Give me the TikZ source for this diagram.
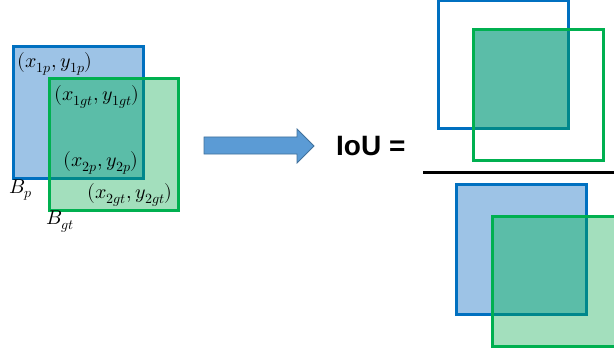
\documentclass[tikz,border=0pt]{standalone}
\usepackage{fontspec}
\usepackage{unicode-math}
\setmathfont{Latin Modern Math}
\newfontfamily\labelsans{Liberation Sans}
\definecolor{bluefill}{HTML}{9DC3E6}
\definecolor{blueline}{HTML}{0070C0}
\definecolor{greenfill}{HTML}{A3DFBD}
\definecolor{greenline}{HTML}{00B050}
\definecolor{overlapfill}{HTML}{5BBDA8}
\definecolor{overlapline}{HTML}{00878C}
\definecolor{arrowfill}{HTML}{5B9BD5}
\definecolor{arrowline}{HTML}{41719C}
\tikzset{
  boxline/.style={line width=3pt},
  coord/.style={inner sep=0pt, font=\fontsize{20}{22}\selectfont},
}
% two overlapping boxes: predicted (#1,#2) and ground truth (#3,#4)
\newcommand{\boxpair}[6]{%
  % #5: fill the blue box (1/0); #6: fill the green box (1/0)
  \ifnum#5=1 \fill[bluefill] (#1) rectangle (#2);\fi
  \ifnum#6=1 \fill[greenfill] (#3) rectangle (#4);\fi
  \begin{scope}
    \clip (#1) rectangle (#2);
    \fill[overlapfill] (#3) rectangle (#4);
  \end{scope}
  \draw[boxline, blueline] (#1) rectangle (#2);
  \begin{scope}
    \clip (#3) rectangle (#4);
    \draw[boxline, overlapline] (#1) rectangle (#2);
  \end{scope}
  \draw[boxline, greenline] (#3) rectangle (#4);
}
\begin{document}
\begin{tikzpicture}[x=1pt, y=-1pt]
\useasboundingbox (0,0) rectangle (614,353);
\clip (0,0) rectangle (614,353);

% left: both boxes with corner labels
\coordinate (pa) at (13,47);  \coordinate (pb) at (143,178);
\coordinate (ga) at (49,79);  \coordinate (gb) at (178,210);
\boxpair{pa}{pb}{ga}{gb}{1}{1}

\node[coord] (c1p)  at (55,64)   {$(x_{1p},y_{1p})$};
\node[coord] (c1gt) at (97,97)   {$(x_{1gt},y_{1gt})$};
\node[coord] (c2p)  at (101,163) {$(x_{2p},y_{2p})$};
\node[coord] (c2gt) at (130,195) {$(x_{2gt},y_{2gt})$};
\node[coord] (bp)   at (21,190)  {$B_p$};
\node[coord] (bgt)  at (60,222)  {$B_{gt}$};

% block arrow
\filldraw[fill=arrowfill, draw=arrowline, line width=0.8pt]
  (204,137) -- (297,137) -- (297,129) -- (314,146) -- (297,163)
  -- (297,154) -- (204,154) -- cycle;

\node[inner sep=0pt, anchor=west, font=\labelsans\bfseries\fontsize{28}{30}\selectfont]
  (iou) at (336,146) {IoU =};

% numerator: intersection only
\coordinate (na) at (438,1);   \coordinate (nb) at (568,129);
\coordinate (ma) at (473,30);  \coordinate (mb) at (603,160);
\boxpair{na}{nb}{ma}{mb}{0}{0}

% fraction bar
\coordinate (barl) at (423,172);
\coordinate (barr) at (614,172);
\draw[line width=3pt, black] (barl) -- (barr);

% denominator: union
\coordinate (da) at (456,184);  \coordinate (db) at (586,314);
\coordinate (ea) at (492,216);  \coordinate (eb) at (622,346);
\boxpair{da}{db}{ea}{eb}{1}{1}
\end{tikzpicture}
\end{document}
